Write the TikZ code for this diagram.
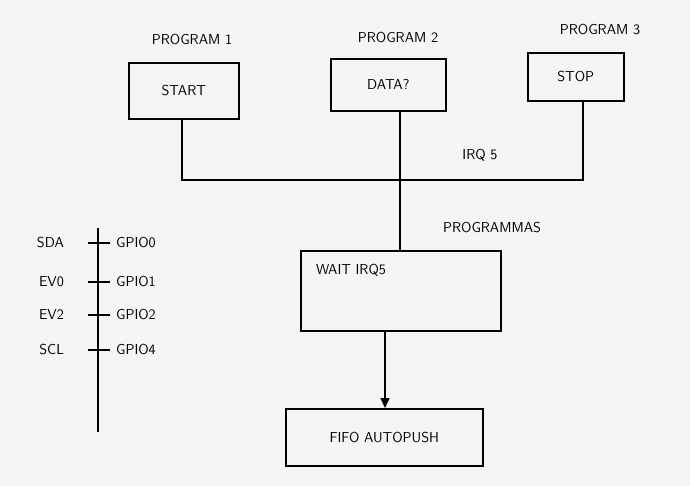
\documentclass[tikz,border=0pt]{standalone}
\usetikzlibrary{arrows.meta}
\begin{document}
\begin{tikzpicture}[x=1pt,y=-1pt,line width=1.6pt,
 box/.style={draw,rectangle,anchor=north west,inner sep=0pt},
 lbl/.style={font=\sffamily\Large}]
\useasboundingbox[fill=gray!8] (0,0) rectangle (690,486);
\node[lbl] (p1) at (192,40) {PROGRAM 1};
\node[lbl] (p2) at (398,38) {PROGRAM 2};
\node[lbl] (p3) at (600,30) {PROGRAM 3};
\node[box,minimum width=110,minimum height=56] (b1) at (128,62) {};
\node[lbl] at (b1.center) {START};
\node[box,minimum width=115,minimum height=52] (b2) at (330,58) {};
\node[lbl] at (b2.center) {DATA?};
\node[box,minimum width=96,minimum height=48] (b3) at (527,52) {};
\node[lbl] at (b3.center) {STOP};
\coordinate (j1) at (182,180);
\coordinate (j2) at (400,180);
\coordinate (j3) at (583,180);
\draw (b1.south -| j1) -- (j1) -- (j3) -- (b3.south -| j3);
\draw (b2.south -| j2) -- (j2);
\node[lbl] (irq) at (480,155) {IRQ 5};
\node[box,minimum width=200,minimum height=80] (w) at (300,250) {};
\node[lbl,anchor=west] at (312,270) {WAIT IRQ5};
\node[lbl] (p0) at (492,228) {PROGRAMMAS};
\draw (j2) -- (j2 |- w.north);
\node[box,minimum width=197,minimum height=57] (f) at (285,408) {};
\node[lbl] at (f.center) {FIFO AUTOPUSH};
\draw[-{Triangle[length=10pt,width=9pt]}] (w.south -| 385,0) -- (f.north -| 385,0);
\coordinate (lt) at (98,228);
\coordinate (lb) at (98,432);
\draw (lt) -- (lb);
\foreach \y/\a/\b in {243/SDA/GPIO0,282/EV0/GPIO1,315/EV2/GPIO2,350/SCL/GPIO4}{
 \node[lbl,anchor=east] at (68,\y) {\a};
 \draw (88,\y) -- (110,\y);
 \node[lbl,anchor=west] at (112,\y) {\b};
}
\end{tikzpicture}
\end{document}
